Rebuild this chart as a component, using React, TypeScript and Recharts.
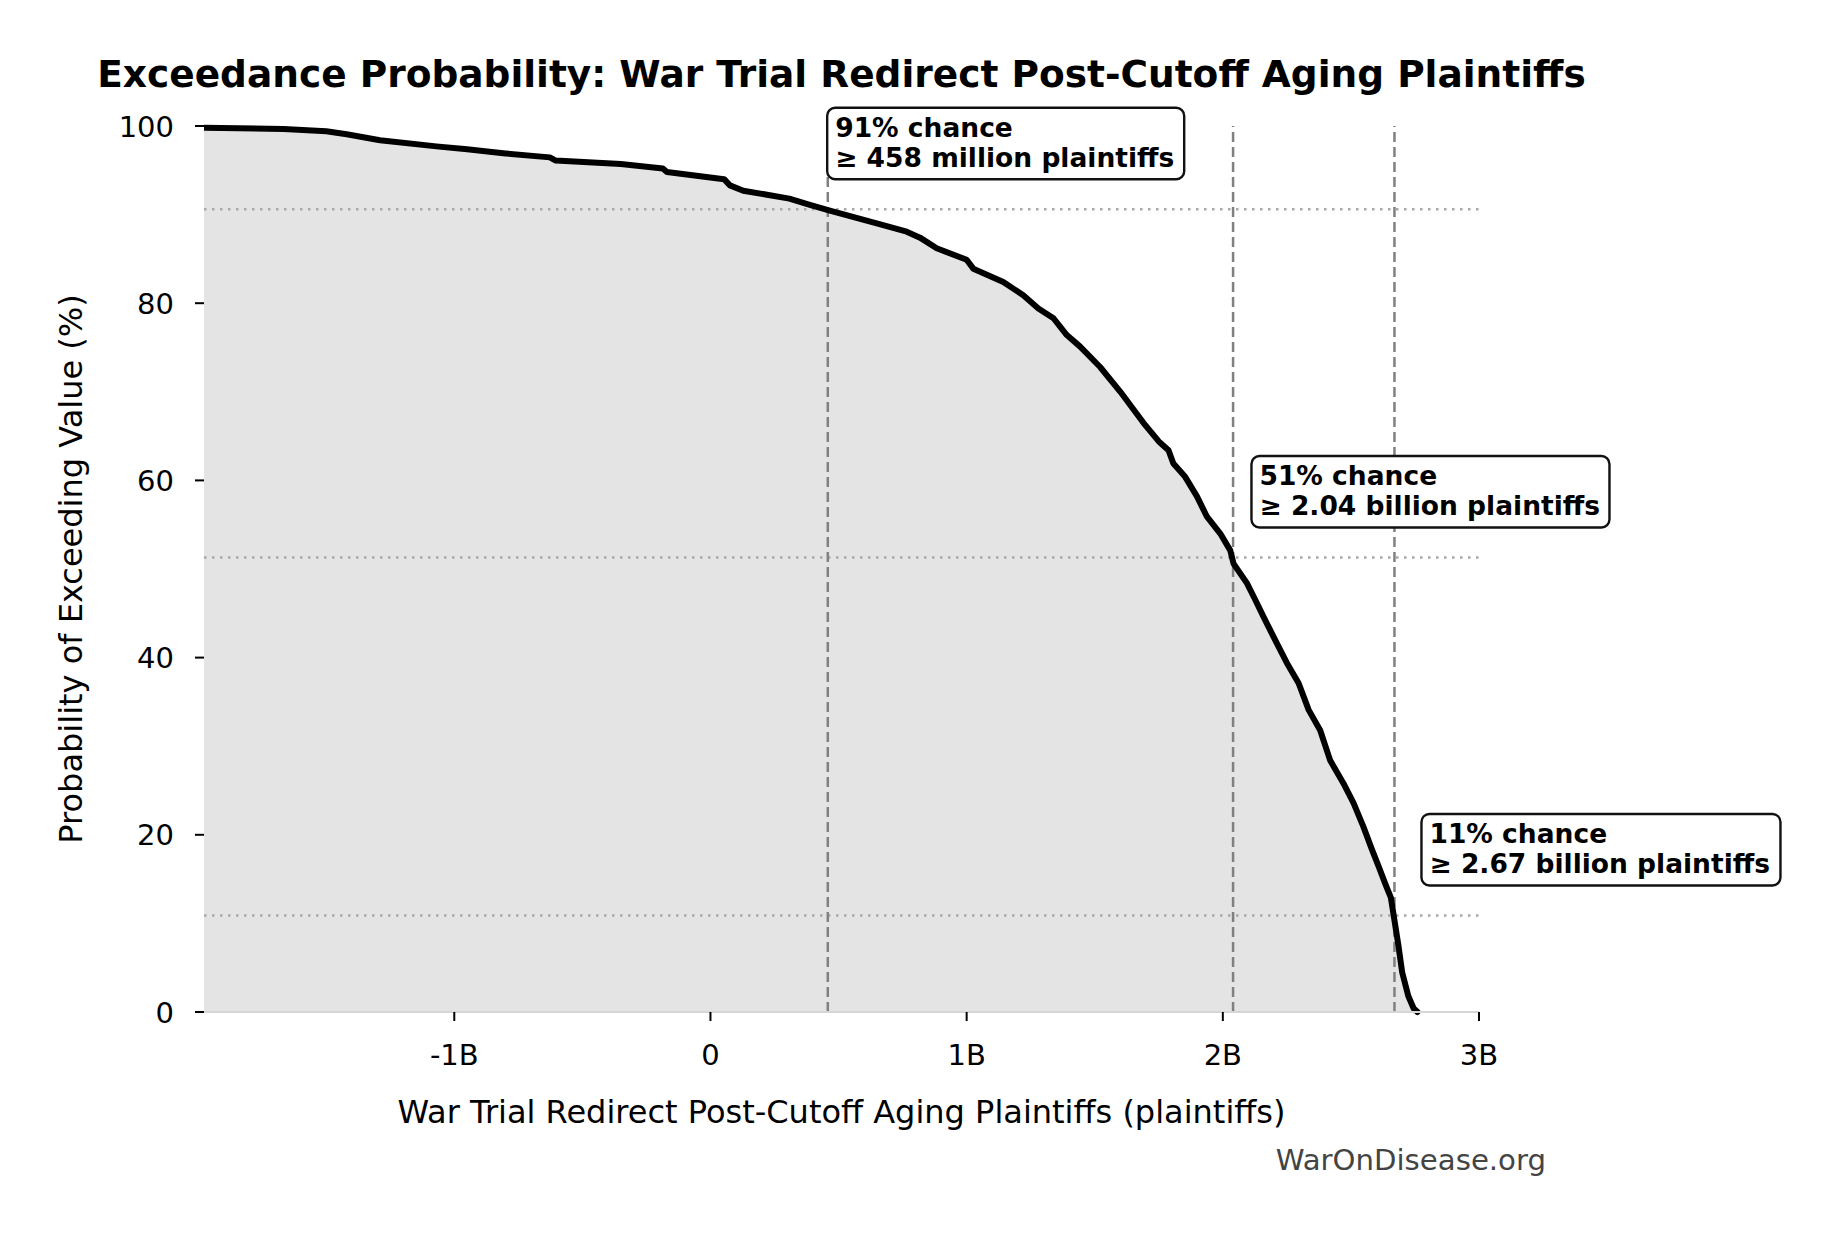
import React from 'react';
import {
  ComposedChart,
  Area,
  Line,
  XAxis,
  YAxis,
  ReferenceLine,
  ReferenceDot,
  Label,
} from 'recharts';

// ---------- data ----------
// x values of the exceedance curve, in billions of plaintiffs
const valuesBillions = [
  -1.977, -1.666, -1.5, -1.42, -1.29, -1.07, -0.95, -0.8, -0.627, -0.604,
  -0.35, -0.186, -0.17, 0.053, 0.076, 0.128, 0.308, 0.388, 0.466, 0.649,
  0.766, 0.818, 0.883, 1.0, 1.026, 1.143, 1.221, 1.28, 1.339, 1.391,
  1.443, 1.521, 1.6, 1.69, 1.75, 1.788, 1.807, 1.853, 1.899, 1.938,
  1.99, 2.029, 2.042, 2.094, 2.127, 2.159, 2.211, 2.25, 2.296, 2.335,
  2.38, 2.419, 2.471, 2.51, 2.549, 2.58, 2.61, 2.635, 2.656, 2.667,
  2.685, 2.7, 2.724, 2.745, 2.76,
];
// probability of exceeding the value (%)
const exceedancePct = [
  99.8, 99.66, 99.4, 99.06, 98.4, 97.7, 97.37, 96.9, 96.46, 96.1,
  95.7, 95.2, 94.8, 94.0, 93.3, 92.7, 91.8, 91.1, 90.44, 89.0,
  88.07, 87.4, 86.2, 84.9, 83.9, 82.4, 80.9, 79.4, 78.3, 76.4,
  75.1, 72.8, 70.0, 66.5, 64.4, 63.4, 61.9, 60.4, 58.2, 55.9,
  54.0, 52.1, 50.6, 48.4, 46.5, 44.6, 41.6, 39.4, 37.1, 34.1,
  31.8, 28.4, 25.8, 23.6, 20.9, 18.5, 16.3, 14.4, 12.9, 10.9,
  7.6, 4.5, 1.8, 0.4, 0.0,
];

const xTicks = [-1e9, 0, 1e9, 2e9, 3e9];
const xTickLabels = ['-1B', '0', '1B', '2B', '3B'];
const yTicks = [0, 20, 40, 60, 80, 100];
const xDomain = [-1.977e9, 3e9];

// thresholds (percentile markers)
const markerValues = [458e6, 2.04e9, 2.67e9];
const markerPct = [90.6, 51.3, 10.9];
const markerLine1 = ['91% chance', '51% chance', '11% chance'];
const markerLine2 = [
  '≥ 458 million plaintiffs',
  '≥ 2.04 billion plaintiffs',
  '≥ 2.67 billion plaintiffs',
];

const TITLE = 'Exceedance Probability: War Trial Redirect Post-Cutoff Aging Plaintiffs';
const X_LABEL = 'War Trial Redirect Post-Cutoff Aging Plaintiffs (plaintiffs)';
const Y_LABEL = 'Probability of Exceeding Value (%)';
const WATERMARK = 'WarOnDisease.org';

// ---------- styling ----------
const FONT = '"DejaVu Sans", Verdana, sans-serif';
const W = 1829;
const H = 1234;
const boxDx = [-0.6, 18.4, 27];
const boxDy = -101.5;
const boxW = [357, 358, 359];
const boxH = 71.5;
const TICK_FS = 29;
const LABEL_FS = 32;

const data = valuesBillions.map((v, i) => ({ x: v * 1e9, p: exceedancePct[i] }));

const fmtX = (v: number) => {
  const i = xTicks.indexOf(v);
  return i >= 0 ? xTickLabels[i] : String(v);
};

const XTick = (props: any) => {
  const { x, y, payload } = props;
  return (
    <text x={x} y={y + 44} textAnchor="middle" fontSize={TICK_FS} fontFamily={FONT} fill="#000">
      {fmtX(payload.value)}
    </text>
  );
};

const YTick = (props: any) => {
  const { x, y, payload } = props;
  return (
    <text x={x - 21} y={y + 10.5} textAnchor="end" fontSize={TICK_FS} fontFamily={FONT} fill="#000">
      {payload.value}
    </text>
  );
};

const makeAnnot = (i: number) => (props: any) => {
  const { cx, cy } = props;
  const left = cx + boxDx[i];
  const top = cy + boxDy;
  return (
    <g>
      <rect
        x={left}
        y={top}
        width={boxW[i]}
        height={boxH}
        rx={8}
        ry={8}
        fill="#ffffff"
        stroke="#111"
        strokeWidth={2.4}
      />
      <text
        x={left + 8}
        y={top + 29.5}
        fontSize={26.5}
        fontWeight="bold"
        fontFamily={FONT}
        fill="#000"
      >
        {markerLine1[i]}
      </text>
      <text
        x={left + 8}
        y={top + 59.5}
        fontSize={26.5}
        fontWeight="bold"
        fontFamily={FONT}
        fill="#000"
      >
        {markerLine2[i]}
      </text>
    </g>
  );
};

export default function App() {
  return (
    <div style={{ position: 'absolute', left: 0, top: 0, width: W, height: H, background: '#fff' }}>
      <ComposedChart
        width={W}
        height={H}
        data={data}
        margin={{ top: 126, right: 350, bottom: 162, left: 104 }}
      >
        <XAxis
          type="number"
          dataKey="x"
          domain={xDomain}
          ticks={xTicks}
          allowDataOverflow
          height={60}
          tickSize={9}
          tickMargin={0}
          tick={<XTick />}
          tickLine={{ stroke: '#000', strokeWidth: 2 }}
          axisLine={{ stroke: '#d6d6d6', strokeWidth: 2 }}
          interval={0}
        >
          <Label
            content={(p: any) => {
              const vb = p.viewBox;
              return (
                <text
                  x={vb.x + vb.width / 2}
                  y={vb.y + 111}
                  textAnchor="middle"
                  fontSize={LABEL_FS}
                  fontFamily={FONT}
                  fill="#000"
                >
                  {X_LABEL}
                </text>
              );
            }}
          />
        </XAxis>
        <YAxis
          type="number"
          domain={[0, 100]}
          ticks={yTicks}
          width={100}
          tickSize={9}
          tickMargin={0}
          tick={<YTick />}
          tickLine={{ stroke: '#000', strokeWidth: 2 }}
          axisLine={false}
          interval={0}
        >
          <Label
            content={(p: any) => {
              const vb = p.viewBox;
              const lx = vb.x - 22;
              const ly = vb.y + vb.height / 2;
              return (
                <text
                  x={lx}
                  y={ly}
                  transform={`rotate(-90, ${lx}, ${ly})`}
                  textAnchor="middle"
                  fontSize={LABEL_FS}
                  fontFamily={FONT}
                  fill="#000"
                >
                  {Y_LABEL}
                </text>
              );
            }}
          />
        </YAxis>
        <Area
          type="linear"
          dataKey="p"
          stroke="none"
          fill="#e4e4e4"
          fillOpacity={1}
          baseValue={0}
          isAnimationActive={false}
          dot={false}
          activeDot={false}
        />
        {markerPct.map((p, i) => (
          <ReferenceLine
            key={`h${i}`}
            y={p}
            stroke="#a8a8a8"
            strokeWidth={2.5}
            strokeDasharray="2.5 5.5"
          />
        ))}
        {markerValues.map((v, i) => (
          <ReferenceLine
            key={`v${i}`}
            x={v}
            stroke="#808080"
            strokeWidth={2.5}
            strokeDasharray="10 5"
          />
        ))}
        <Line
          type="linear"
          dataKey="p"
          stroke="#000"
          strokeWidth={6}
          strokeLinejoin="round"
          strokeLinecap="round"
          dot={false}
          activeDot={false}
          isAnimationActive={false}
        />
        {markerValues.map((v, i) => (
          <ReferenceDot
            key={`a${i}`}
            x={v}
            y={markerPct[i]}
            r={0}
            ifOverflow="visible"
            shape={makeAnnot(i)}
          />
        ))}
      </ComposedChart>
      <svg
        width={W}
        height={H}
        style={{ position: 'absolute', left: 0, top: 0, pointerEvents: 'none' }}
      >
        <text
          x={841.5}
          y={87}
          textAnchor="middle"
          fontSize={37.5}
          fontWeight="bold"
          fontFamily={FONT}
          fill="#000"
        >
          {TITLE}
        </text>
        <text
          x={1546}
          y={1170}
          textAnchor="end"
          fontSize={29.2}
          fontFamily={FONT}
          fill="#444"
        >
          {WATERMARK}
        </text>
      </svg>
    </div>
  );
}
